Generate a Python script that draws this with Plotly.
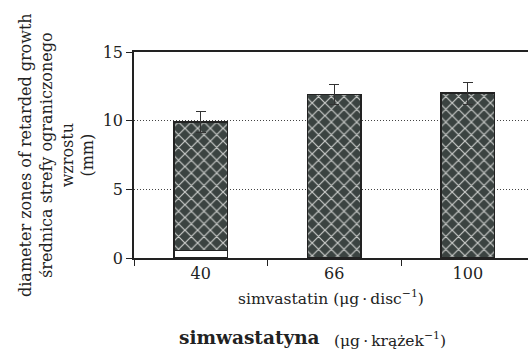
import plotly.graph_objects as go

categories = ["40", "66", "100"]
means = [9.9, 11.9, 12.0]
errors = [0.75, 0.75, 0.8]
white_base = [0.55, 0, 0]

pattern_part = [m - w for m, w in zip(means, white_base)]

FONT = "DejaVu Serif"
PLOT_L, PLOT_W = 134, 394


def px_to_paper(x):
    return (x - PLOT_L) / PLOT_W


fig = go.Figure()
fig.add_trace(go.Bar(
    x=categories, y=white_base, width=0.4,
    marker=dict(color="white", line=dict(color="#222", width=1.5)),
    showlegend=False, hoverinfo="skip",
))
fig.add_trace(go.Bar(
    x=categories, y=pattern_part, width=0.4,
    marker=dict(color="#3b4341", line=dict(color="#222", width=1.5),
                pattern=dict(shape="x", bgcolor="#3b4341", fgcolor="#c9cbc9",
                             size=9, solidity=0.25, fillmode="replace")),
    error_y=dict(type="data", array=errors, visible=True, color="#333",
                 thickness=1, width=5),
    showlegend=False,
))

fig.update_layout(
    width=528, height=352,
    margin=dict(l=134, r=0, t=52, b=94),
    paper_bgcolor="white", plot_bgcolor="white",
    barmode="stack",
    font=dict(family=FONT, size=16, color="#222"),
    xaxis=dict(type="category", range=[-0.5, 2.451], showline=True,
               linecolor="#222", linewidth=1.5, mirror=True,
               ticks="outside", tickson="boundaries", ticklen=6,
               tickcolor="#222", showgrid=False,
               tickfont=dict(family=FONT, size=16)),
    yaxis=dict(range=[0, 15], tickvals=[0, 5, 10, 15], showline=True,
               linecolor="#222", linewidth=1.5, ticks="outside", ticklen=6,
               tickcolor="#222", showgrid=True, gridcolor="#444",
               griddash="1px,2px", gridwidth=1, zeroline=False,
               tickfont=dict(family=FONT, size=16)),
    annotations=[
        dict(text="diameter zones of retarded growth<br>średnica strefy ograniczonego<br>wzrostu<br>(mm)",
             xref="paper", yref="paper", x=px_to_paper(56), y=0.5, xanchor="center",
             yanchor="middle", textangle=-90, showarrow=False,
             font=dict(family=FONT, size=16)),
        dict(text="simvastatin (μg\u2009·\u2009disc<sup>−1</sup>)",
             xref="paper", yref="paper", x=px_to_paper(331), y=-0.13, xanchor="center",
             yanchor="top", showarrow=False, font=dict(family=FONT, size=15.5)),
        dict(text="<b>simwastatyna</b>",
             xref="paper", yref="paper", x=px_to_paper(177), y=-0.324, xanchor="left",
             yanchor="top", showarrow=False, font=dict(family=FONT, size=18.5)),
        dict(text="(μg\u2009·\u2009krążek<sup>−1</sup>)",
             xref="paper", yref="paper", x=px_to_paper(332), y=-0.334, xanchor="left",
             yanchor="top", showarrow=False, font=dict(family=FONT, size=15.5)),
    ],
)

fig.write_html("out.html", post_script="document.body.style.margin='0';",
               config={"displayModeBar": False})
